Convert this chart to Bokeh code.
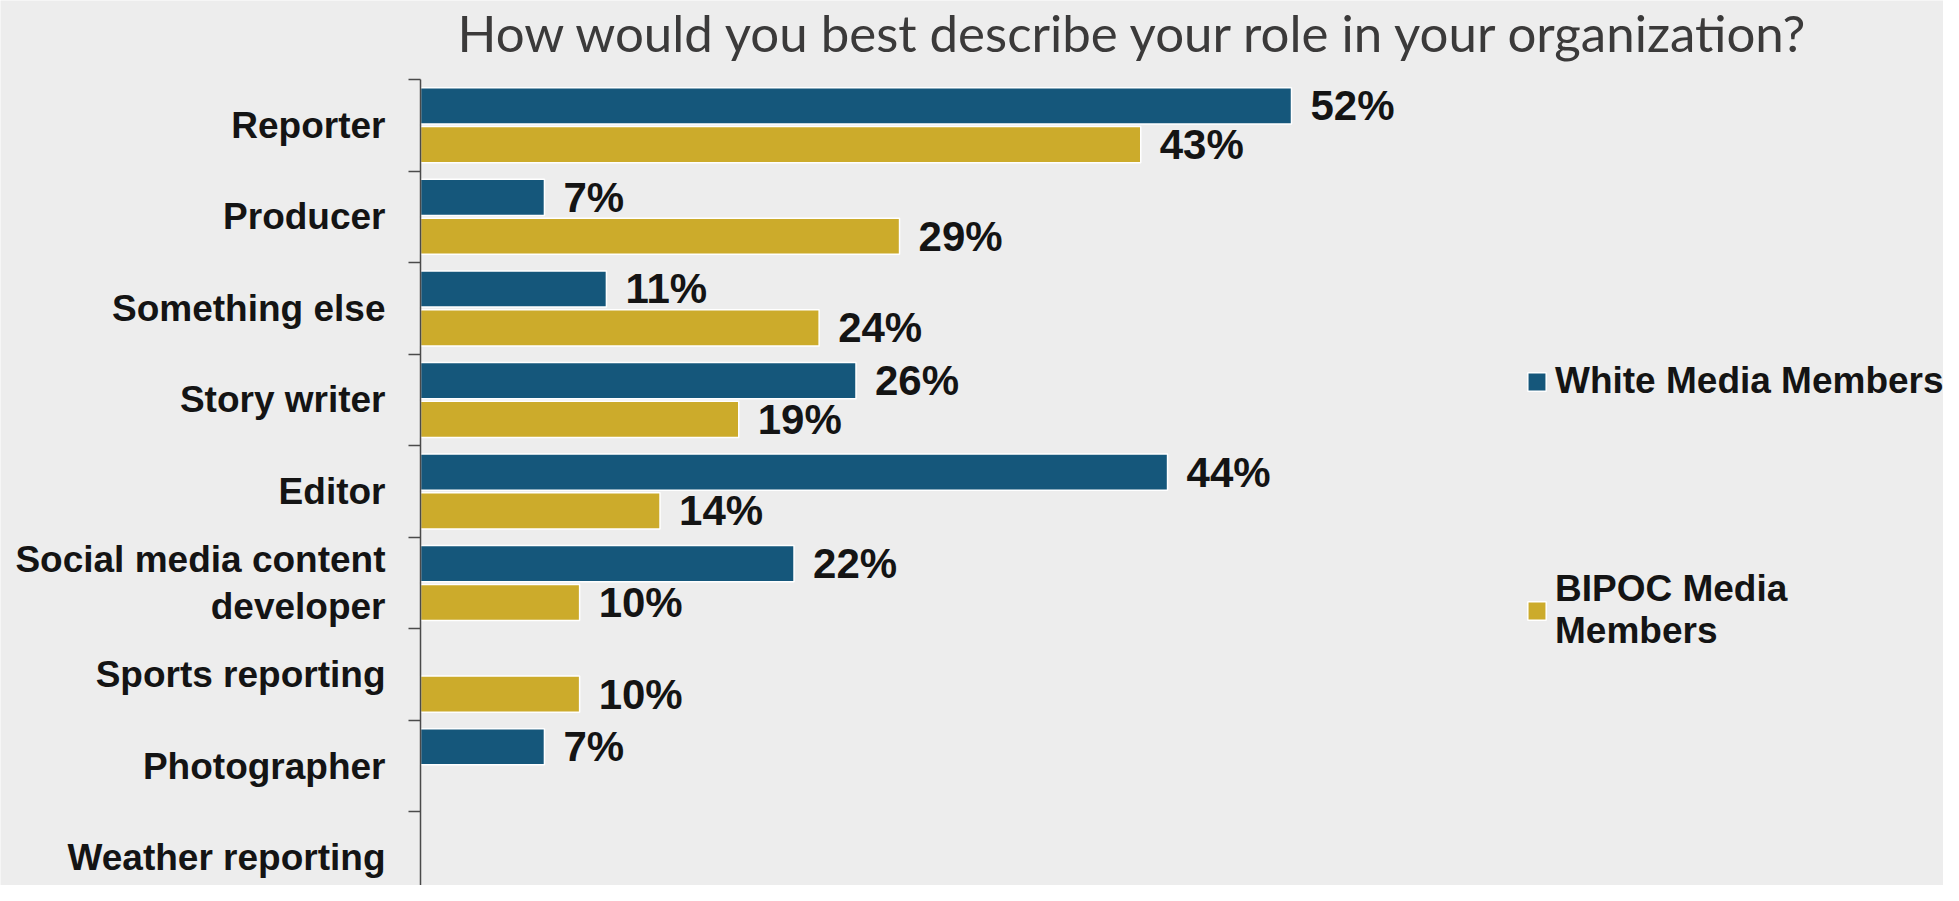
from bokeh.plotting import figure
from bokeh.models import (Range1d, LinearAxis, FixedTicker, ColumnDataSource,
                          Label, Legend, LegendItem)
from bokeh.embed import file_html
from bokeh.resources import INLINE
from bokeh.core.properties import value

# ---------------- data ----------------
title_text = "How would you best describe your role in your organization?"
categories = ["Reporter", "Producer", "Something else", "Story writer", "Editor",
              "Social media content\ndeveloper", "Sports reporting", "Photographer",
              "Weather reporting"]
# bar lengths (percent)
white_vals = [52.0, 7.4, 11.1, 26.0, 44.6, 22.3, 0, 7.4, 0]
bipoc_vals = [43.0, 28.6, 23.8, 19.0, 14.3, 9.5, 9.5, 0, 0]
# data labels as printed on the chart
white_labels = ["52%", "7%", "11%", "26%", "44%", "22%", "", "7%", ""]
bipoc_labels = ["43%", "29%", "24%", "19%", "14%", "10%", "10%", "", ""]
series_names = ["White Media Members", "BIPOC Media\nMembers"]

# ---------------- style ----------------
BG = "#EDEDED"
BLUE = "#15577B"
GOLD = "#CCAB2B"
TXT = "#141414"
AXIS_COL = "#4A4A4A"
FONT = "Liberation Sans"

W, H = 1943, 885
AXIS_PX = 420        # x of the category axis in the canvas
TOP_PX = 79          # y of the first category boundary
PX_PER_PCT = 16.75
PX_PER_CAT = 91.56

n = len(categories)
x_start = -AXIS_PX / PX_PER_PCT
x_end = (W - AXIS_PX) / PX_PER_PCT
y_top = -TOP_PX / PX_PER_CAT
y_bottom = (H - TOP_PX) / PX_PER_CAT

p = figure(width=W, height=H,
           x_range=Range1d(x_start, x_end),
           y_range=Range1d(start=y_bottom, end=y_top),
           x_axis_type=None, y_axis_type=None,
           toolbar_location=None, output_backend="svg",
           min_border=0, background_fill_color=BG, border_fill_color=BG,
           outline_line_color=None)

centers = [i + 0.5 for i in range(n)]
OFF = 0.212
BAR_H = 0.395


def bar_source(vals, labels, shift):
    ys, xs, ls = [], [], []
    for c, v, lab in zip(centers, vals, labels):
        if v > 0:
            ys.append(c + shift)
            xs.append(v)
            ls.append(lab)
    return ColumnDataSource(dict(y=ys, right=xs, label=ls))


src_w = bar_source(white_vals, white_labels, -OFF)
src_b = bar_source(bipoc_vals, bipoc_labels, OFF)

r_w = p.hbar(y="y", right="right", left=0, height=BAR_H, source=src_w,
             fill_color=BLUE, line_color="white", line_width=1.5)
r_b = p.hbar(y="y", right="right", left=0, height=BAR_H, source=src_b,
             fill_color=GOLD, line_color="white", line_width=1.5)

for src in (src_w, src_b):
    p.text(x="right", y="y", text="label", source=src, x_offset=19,
           text_align="left", text_baseline="middle",
           text_font=value(FONT), text_font_style="bold",
           text_font_size="42px", text_color=TXT)

# category labels
cat_src = ColumnDataSource(dict(x=[0] * n, y=centers, text=categories))
p.text(x="x", y="y", text="text", source=cat_src, x_offset=-35,
       text_align="right", text_baseline="middle", text_line_height=1.15,
       text_font=value(FONT), text_font_style="bold",
       text_font_size="37px", text_color=TXT)

# category axis with ticks at the category boundaries
ax = LinearAxis(fixed_location=0,
                ticker=FixedTicker(ticks=list(range(n + 1))),
                bounds=(0, n),
                axis_line_color=AXIS_COL, axis_line_width=1.5,
                major_tick_out=12, major_tick_in=0,
                major_tick_line_color=AXIS_COL, major_tick_line_width=1.5,
                minor_tick_line_color=None,
                major_label_overrides={i: "" for i in range(n + 1)})
p.add_layout(ax, "left")

# title
p.add_layout(Label(x=(1135 - AXIS_PX) / PX_PER_PCT,
                   y=(32 - TOP_PX) / PX_PER_CAT,
                   text=title_text, text_align="center",
                   text_baseline="alphabetic", text_font="Lato",
                   text_font_size="51px", text_color="#3B3A3A"))

# legend
legend = Legend(items=[LegendItem(label=value(series_names[0]), renderers=[r_w]),
                       LegendItem(label=value(series_names[1]), renderers=[r_b])],
                location=(1525, 233), orientation="vertical",
                glyph_width=23, glyph_height=23, label_standoff=7,
                spacing=166, padding=0, margin=0,
                border_line_color=None, background_fill_alpha=0,
                label_text_font=FONT, label_text_font_style="bold",
                label_text_line_height=1.25,
                label_text_font_size="37px", label_text_color=TXT)
p.add_layout(legend)

open("out.html", "w").write(file_html(p, INLINE))
